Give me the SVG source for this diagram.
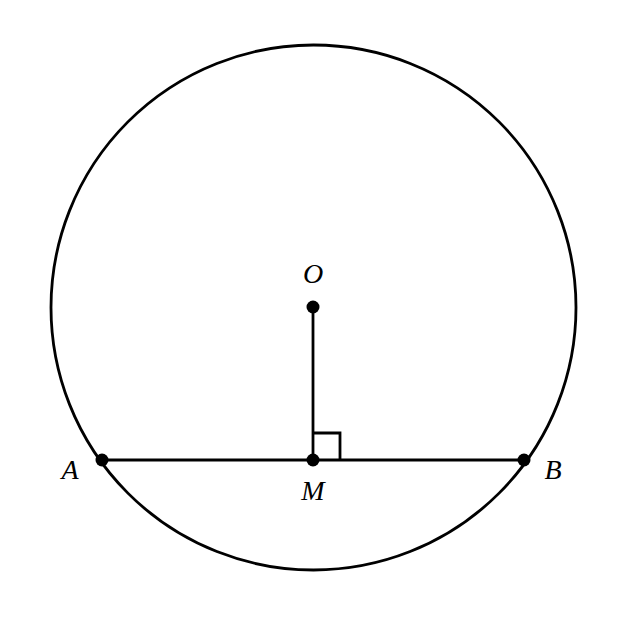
<svg xmlns="http://www.w3.org/2000/svg" width="627" height="627" viewBox="0 0 627 627">
<style>
.ln{fill:none;stroke:#000;stroke-width:2.8}
.pt{fill:#000}
.lb{font-family:"Liberation Serif",serif;font-style:italic;font-size:28px;fill:#000}
</style>
<rect width="627" height="627" fill="#fff"/>
<g id="connectors">
<circle class="ln" cx="313.5" cy="307.5" r="262.5"/>
<line class="ln" x1="101" y1="460" x2="525" y2="460"/>
<line class="ln" x1="313" y1="307" x2="313" y2="460"/>
<polyline class="ln" stroke-width="2" points="313,433 340,433 340,460"/>
</g>
<g id="O"><circle class="pt" cx="313" cy="307" r="6.5"/><text class="lb" x="313" y="283" text-anchor="middle">O</text></g>
<g id="M"><circle class="pt" cx="313" cy="460" r="6.5"/><text class="lb" x="313" y="500" text-anchor="middle">M</text></g>
<g id="A"><circle class="pt" cx="102" cy="460" r="6.5"/><text class="lb" x="70" y="479" text-anchor="middle">A</text></g>
<g id="B"><circle class="pt" cx="524" cy="460" r="6.5"/><text class="lb" x="553" y="479" text-anchor="middle">B</text></g>
</svg>
